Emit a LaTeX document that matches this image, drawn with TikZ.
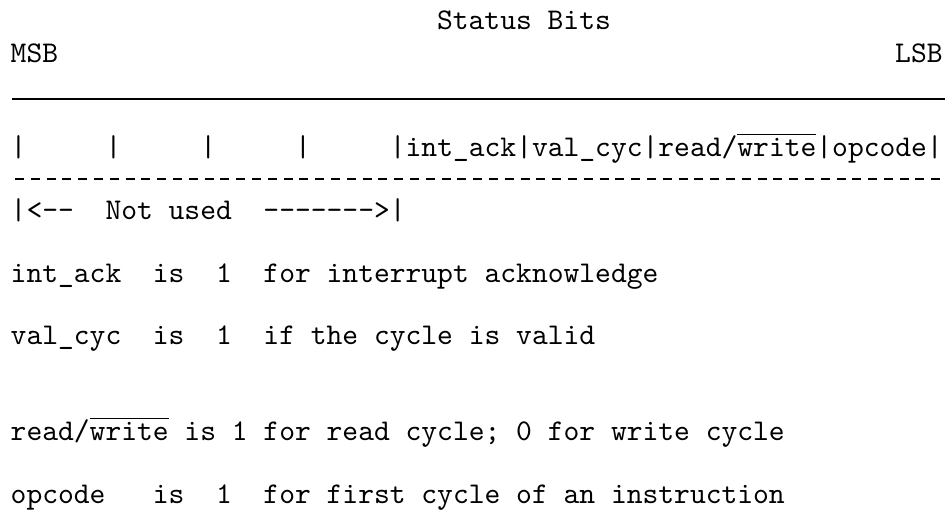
\documentclass[tikz,border=0pt]{standalone}
\begin{document}
\begin{tikzpicture}
[x=1pt,y=1pt,
 bits/.style={font=\fontsize{10.03}{12}\selectfont\ttfamily, inner sep=0pt, anchor=base west},
 rulethick/.style={line width=0.7pt}]
\useasboundingbox (0,0) rectangle (316,-170);
\node[bits] (title) at (145.5,-9.7) {Status Bits};
\node[bits] (msb) at (3.375,-20.7) {MSB};
\node[bits] (lsb) at (298.2,-20.7) {LSB};
\coordinate (topl) at (4,-33);
\coordinate (topr) at (315,-33);
\draw[rulethick] (topl) -- (topr);
%% the unused bit fields
\foreach \i in {0,...,3} {
  \node[bits] (bar\i) at ({3.375+6*\i*5.266},-52.2) {|};
}
\node[bits] (fields) at (129.76,-52.2)
  {|int\_ack|val\_cyc|read/$\overline{\mbox{write}}$|opcode|};
\coordinate (dashl) at (5,-59.7);
\coordinate (dashr) at (315,-59.7);
\draw[rulethick, dash pattern=on 3pt off 2.266pt] (dashl) -- (dashr);
\node[bits] (unused) at (3.375,-73.3) {|<--~~Not used~~------->|};
%% meaning of each bit
\node[bits] (intack) at (3.375,-94.3) {int\_ack~~is~~1~~for interrupt acknowledge};
\node[bits] (valcyc) at (3.375,-114.7) {val\_cyc~~is~~1~~if the cycle is valid};
\node[bits] (rw) at (3.375,-147) {read/$\overline{\mbox{write}}$ is 1 for read cycle; 0 for write cycle};
\node[bits] (opcode) at (3.375,-167.7) {opcode~~~is~~1~~for first cycle of an instruction};
\end{tikzpicture}
\end{document}
